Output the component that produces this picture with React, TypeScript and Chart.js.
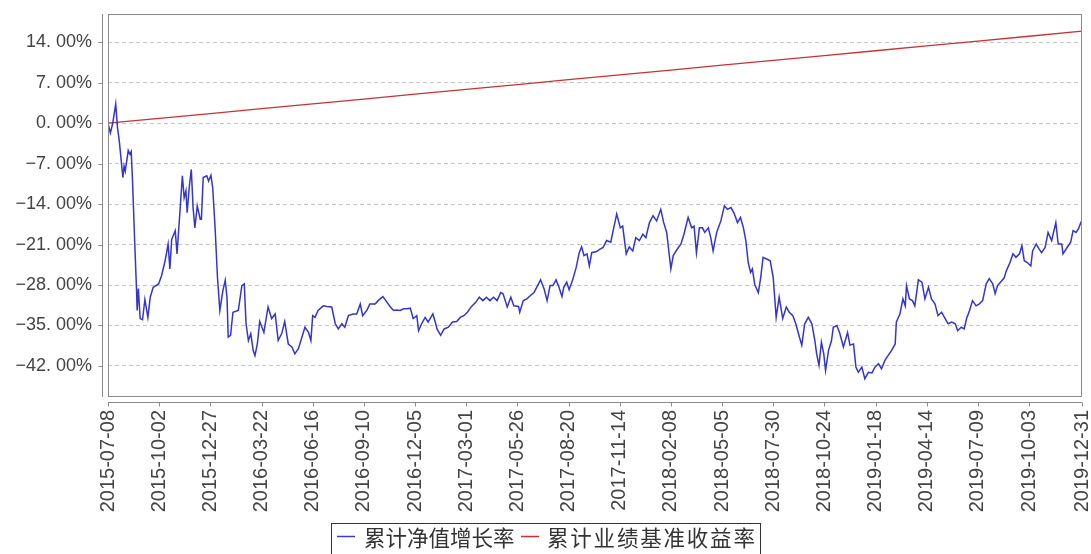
import React, { useEffect, useRef } from "react";
import { Chart, registerables } from "chart.js";

Chart.register(...registerables);

// ---- data ----
const seriesNames = ["累计净值增长率", "累计业绩基准收益率"];

// x tick labels (calendar dates)
const tickLabels = [
  "2015-07-08", "2015-10-02", "2015-12-27", "2016-03-22", "2016-06-16",
  "2016-09-10", "2016-12-05", "2017-03-01", "2017-05-26", "2017-08-20",
  "2017-11-14", "2018-02-08", "2018-05-05", "2018-07-30", "2018-10-24",
  "2019-01-18", "2019-04-14", "2019-07-09", "2019-10-03", "2019-12-31",
];

const yTicks = [14, 7, 0, -7, -14, -21, -28, -35, -42];

// benchmark return (%) at each tick date
const benchValues = [
  0, 0.84, 1.67, 2.51, 3.35, 4.18, 5.02, 5.85, 6.69, 7.53,
  8.36, 9.2, 10.04, 10.87, 11.71, 12.54, 13.38, 14.22, 15.05, 15.92,
];

// fund cumulative NAV growth: day offset from 2015-07-08 and value (%)
const navDays = [
  0, 4, 8, 13, 16, 19, 25, 27, 29, 34, 37, 39, 41, 45, 48, 49, 51, 54, 58, 62,
  67, 71, 76, 85, 90, 96, 101, 104, 107, 113, 116, 121, 125, 128, 131, 133, 137, 140, 143, 146,
  150, 155, 157, 160, 166, 169, 173, 176, 180, 184, 188, 193, 197, 200, 202, 206, 210, 219, 225, 229,
  232, 236, 240, 244, 247, 251, 255, 262, 269, 275, 281, 286, 292, 297, 303, 309, 314, 320, 326, 331,
  337, 341, 344, 348, 353, 362, 368, 376, 382, 387, 393, 398, 404, 412, 418, 424, 428, 435, 440, 449,
  454, 462, 467, 474, 480, 485, 491, 497, 502, 508, 513, 519, 522, 527, 533, 538, 546, 550, 553, 559,
  565, 572, 579, 586, 592, 598, 604, 611, 618, 624, 630, 636, 642, 648, 654, 660, 664, 671, 677, 682,
  690, 692, 698, 704, 710, 716, 722, 727, 733, 738, 743, 748, 753, 757, 763, 766, 771, 775, 781, 787,
  792, 796, 800, 805, 809, 813, 821, 827, 832, 838, 845, 849, 855, 861, 865, 871, 876, 882, 887, 893,
  899, 904, 910, 916, 922, 929, 934, 939, 946, 950, 956, 963, 968, 975, 981, 985, 989, 994, 999, 1003,
  1009, 1013, 1017, 1023, 1030, 1036, 1041, 1047, 1052, 1058, 1063, 1068, 1072, 1076, 1080, 1083, 1087, 1093, 1097, 1101,
  1107, 1113, 1118, 1123, 1128, 1134, 1140, 1145, 1151, 1156, 1162, 1166, 1171, 1177, 1183, 1188, 1191, 1195, 1199, 1203,
  1206, 1211, 1216, 1219, 1225, 1230, 1236, 1243, 1247, 1253, 1257, 1261, 1267, 1272, 1278, 1284, 1289, 1295, 1300, 1306,
  1311, 1317, 1323, 1325, 1331, 1336, 1340, 1342, 1347, 1352, 1356, 1362, 1368, 1373, 1379, 1384, 1390, 1395, 1401, 1407,
  1412, 1418, 1424, 1428, 1434, 1439, 1443, 1448, 1453, 1459, 1464, 1470, 1476, 1481, 1487, 1491, 1495, 1500, 1506, 1510,
  1516, 1521, 1526, 1532, 1536, 1540, 1545, 1551, 1554, 1560, 1565, 1569, 1575, 1580, 1586, 1593, 1597, 1603, 1605, 1612,
  1618, 1622, 1627, 1631, 1635, 1637,
];
const navValues = [
  0, -1.7, 0, 3.3, -0.8, -3.1, -9.4, -7.4, -8.3, -4.7, -5.4, -4.9, -9.4, -20.9, -29, -32.4, -28.6, -33.8, -34, -30.5,
  -33.6, -30.1, -28.4, -27.8, -26.4, -23.8, -20.9, -25.2, -20.1, -18.6, -22.6, -15.2, -9.1, -12.9, -11.7, -15.5, -10.6, -8.0, -14.6, -18.1,
  -14.3, -16.6, -16.6, -9.4, -9.1, -10.0, -9.0, -11.2, -18.1, -26.7, -32.4, -29.0, -27.2, -30.1, -37.0, -36.7, -32.7, -32.4, -28.1, -27.8,
  -34.7, -37.6, -36.4, -39.3, -40.2, -38.2, -34.3, -36.2, -31.8, -33.8, -33.0, -37.6, -36.4, -34.3, -38.2, -38.7, -39.9, -39.0, -37.0, -35.3,
  -36.2, -37.6, -33.3, -33.6, -32.4, -31.6, -31.7, -31.8, -34.7, -35.6, -34.7, -35.3, -33.3, -33.0, -33.0, -31.3, -33.3, -32.4, -31.3, -31.3,
  -30.7, -30.0, -30.7, -31.7, -32.4, -32.3, -32.4, -32.1, -32.1, -32.0, -33.8, -33.3, -35.9, -34.7, -33.6, -34.4, -33.0, -34.4, -35.6, -36.7,
  -35.6, -35.3, -34.4, -34.3, -33.6, -33.3, -32.7, -31.7, -31.0, -30.1, -30.7, -30.1, -30.7, -30.1, -30.7, -29.3, -29.5, -31.8, -30.1, -31.6,
  -31.7, -32.7, -30.7, -30.4, -29.8, -29.3, -28.1, -27.1, -28.7, -30.7, -28.1, -28.1, -27.1, -28.1, -30.0, -28.4, -27.5, -28.8, -27.1, -24.9,
  -22.4, -21.4, -22.9, -22.6, -24.7, -22.4, -22.2, -21.8, -21.5, -20.3, -20.6, -18.6, -15.7, -18.1, -17.8, -22.6, -21.4, -22.1, -19.8, -20.3,
  -19.2, -19.8, -17.2, -16.0, -16.9, -14.9, -17.2, -18.9, -25.2, -22.9, -21.9, -20.9, -19.2, -16.3, -18.1, -17.8, -22.4, -18.1, -18.1, -18.9,
  -18.1, -19.8, -22.1, -18.9, -16.9, -14.3, -14.9, -14.6, -15.5, -17.2, -16.3, -18.1, -20.3, -24.1, -25.8, -25.2, -27.9, -29.3, -26.7, -23.2,
  -23.5, -23.8, -26.7, -33.6, -30.1, -33.8, -31.8, -32.7, -33.3, -34.7, -37.0, -38.4, -34.7, -33.6, -34.7, -37.6, -39.9, -41.9, -37.9, -39.9,
  -42.8, -39.3, -37.6, -35.3, -35.0, -36.4, -38.7, -36.2, -38.4, -38.2, -42.2, -43.1, -42.2, -44.2, -43.1, -43.2, -42.2, -41.6, -42.5, -41.0,
  -40.2, -39.3, -38.2, -34.4, -33.0, -30.4, -31.6, -28.1, -30.4, -30.7, -31.6, -27.1, -27.5, -30.4, -28.4, -30.4, -31.3, -33.3, -32.7, -33.8,
  -34.7, -34.4, -34.7, -35.9, -35.3, -35.6, -33.8, -32.4, -30.7, -31.6, -31.3, -30.7, -27.8, -26.9, -27.8, -29.5, -28.1, -27.5, -26.8, -25.5,
  -24.1, -22.6, -23.2, -22.6, -21.2, -23.8, -24.1, -24.7, -22.1, -20.9, -21.8, -22.4, -21.5, -18.9, -20.3, -17.2, -20.9, -20.9, -22.6, -21.5,
  -20.6, -18.6, -18.9, -18.3, -17.2, -17.5,
];

const DAY = 86400000;
const startMs = Date.UTC(2015, 6, 8);
const tickDays = tickLabels.map((s) => {
  const [y, m, d] = s.split("-").map(Number);
  return Math.round((Date.UTC(y, m - 1, d) - startMs) / DAY);
});

const fmtPct = (v: number) =>
  (v < 0 ? "\u2212" : "") + Math.abs(v).toFixed(2).replace(".", ". ") + "%";

const zeroPad = (s: any) => {
  s.paddingLeft = 0;
  s.paddingRight = 0;
  s.paddingTop = 0;
  s.paddingBottom = 0;
};

const framePlugin = {
  id: "frame",
  afterDraw(chart: any) {
    const { ctx, chartArea } = chart;
    const { left, right, top, bottom } = chartArea;
    ctx.save();
    ctx.strokeStyle = "#8a8a8a";
    ctx.lineWidth = 1;
    ctx.strokeRect(left + 0.5, top + 0.5, right - left - 1, bottom - top);
    // offset y axis line + ticks
    const ax = left - 5.5;
    ctx.beginPath();
    ctx.moveTo(ax, top);
    ctx.lineTo(ax, bottom + 1);
    const ys = chart.scales.y;
    ys.ticks.forEach((t: any) => {
      const py = Math.round(ys.getPixelForValue(t.value)) + 0.5;
      ctx.moveTo(ax - 4, py);
      ctx.lineTo(ax, py);
    });
    // offset x axis line + ticks
    const ay = bottom + 6.5;
    ctx.moveTo(left, ay);
    ctx.lineTo(right, ay);
    const xs = chart.scales.x;
    xs.ticks.forEach((t: any) => {
      const px = Math.round(xs.getPixelForValue(t.value)) + 0.5;
      ctx.moveTo(px, ay);
      ctx.lineTo(px, ay + 4);
    });
    ctx.stroke();

    // legend box
    ctx.strokeStyle = "#333";
    ctx.strokeRect(331.5, 523.5, 429, 40);
    ctx.font = '21.5px "Noto Sans CJK SC"';
    ctx.textBaseline = "middle";
    ctx.fillStyle = "#333";
    const colors = ["#3a3acf", "#c83232"];
    const dashX = [337, 521];
    const textX = [364, 547];
    const spacing = ["0px", "1.8px"];
    seriesNames.forEach((name, i) => {
      ctx.strokeStyle = colors[i];
      ctx.lineWidth = 1.5;
      ctx.beginPath();
      ctx.moveTo(dashX[i], 536.5);
      ctx.lineTo(dashX[i] + 18, 536.5);
      ctx.stroke();
      (ctx as any).letterSpacing = spacing[i];
      ctx.fillText(name, textX[i], 538);
    });
    ctx.restore();
  },
};

export default function App() {
  const ref = useRef<HTMLCanvasElement>(null);
  useEffect(() => {
    const canvas = ref.current!;
    const chart = new Chart(canvas, {
      type: "line",
      data: {
        datasets: [
          {
            label: seriesNames[0],
            data: navDays.map((d, i) => ({ x: d, y: navValues[i] })),
            borderColor: "#3535cc",
            borderWidth: 1.5,
            pointRadius: 0,
            tension: 0,
          },
          {
            label: seriesNames[1],
            data: tickDays.map((d, i) => ({ x: d, y: benchValues[i] })),
            borderColor: "#c83232",
            borderWidth: 1.3,
            pointRadius: 0,
            tension: 0,
          },
        ],
      },
      options: {
        animation: false,
        responsive: false,
        devicePixelRatio: 1,
        layout: { padding: { top: 14, right: 9, left: 0, bottom: 0 } },
        plugins: { legend: { display: false }, title: { display: false }, tooltip: { enabled: false } },
        scales: {
          x: {
            type: "linear",
            min: 0,
            max: tickDays[tickDays.length - 1],
            afterBuildTicks: (s: any) => {
              s.ticks = tickDays.map((v) => ({ value: v }));
            },
            afterFit: (s: any) => {
              s.height = 158;
              zeroPad(s);
            },
            grid: { display: false, drawTicks: false },
            border: { display: false },
            ticks: {
              autoSkip: false,
              maxRotation: 90,
              minRotation: 90,
              padding: 14,
              color: "#444",
              font: { family: "Liberation Sans", size: 20 },
              callback: (v: any) => {
                const i = tickDays.indexOf(Number(v));
                return i >= 0 ? tickLabels[i] : "";
              },
            },
          },
          y: {
            min: -47.2,
            max: 18.9,
            afterBuildTicks: (s: any) => {
              s.ticks = yTicks.map((v) => ({ value: v }));
            },
            afterFit: (s: any) => {
              s.width = 108;
              zeroPad(s);
            },
            grid: { color: "#c8c8c8", drawTicks: false, lineWidth: 1 },
            border: { display: false, dash: [4, 3] },
            ticks: {
              padding: 16,
              color: "#444",
              font: { family: "Liberation Sans", size: 18 },
              callback: (v: any) => fmtPct(Number(v)),
            },
          },
        },
      },
      plugins: [framePlugin],
    });
    return () => chart.destroy();
  }, []);
  return (
    <div style={{ position: "absolute", left: 0, top: 0, width: 1091, height: 554, background: "#fff" }}>
      <canvas ref={ref} width={1091} height={554} />
    </div>
  );
}
